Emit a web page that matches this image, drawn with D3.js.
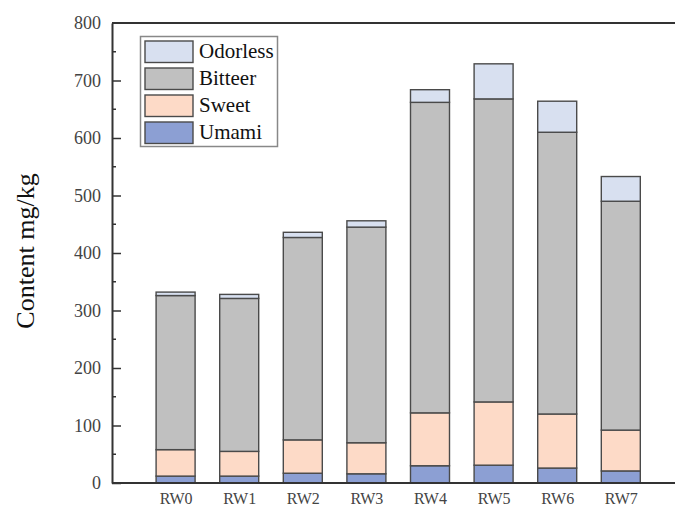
<!DOCTYPE html>
<html>
<head>
<meta charset="utf-8">
<script src="https://cdn.jsdelivr.net/npm/d3@7"></script>
<style>
  html, body { margin: 0; padding: 0; background: #fff; overflow: hidden; }
  svg { display: block; }
</style>
</head>
<body>
<svg id="chart" width="675" height="508"></svg>
<script>
// Taste-compound content per sample (mg/kg), stacked bottom to top
const samples  = ["RW0", "RW1", "RW2", "RW3", "RW4", "RW5", "RW6", "RW7"];
const umami    = [12, 12, 17, 16, 30, 31, 26, 21];
const sweet    = [46, 43, 58, 54, 92, 110, 94, 71];
const bitter   = [268, 266, 352, 375, 540, 527, 490, 398];
const odorless = [6, 7, 9, 11, 22, 61, 54, 43];
const seriesNames = ["Umami", "Sweet", "Bitteer", "Odorless"];
const yTicks = [0, 100, 200, 300, 400, 500, 600, 700, 800];

const colors = {
  Umami: "#8c9fd3",
  Sweet: "#fddac7",
  Bitteer: "#c0c0c0",
  Odorless: "#d8e0f0"
};

const rows = samples.map((s, i) => ({
  sample: s,
  Umami: umami[i],
  Sweet: sweet[i],
  Bitteer: bitter[i],
  Odorless: odorless[i]
}));
const stacked = d3.stack().keys(seriesNames)(rows);

const svg = d3.select("#chart");
const plot = { left: 112, top: 23, bottom: 483, right: 684.4 };

const x = d3.scalePoint().domain(samples).range([plot.left, plot.right]).padding(1);
const barW = 39;
const y = d3.scaleLinear().domain([0, 800]).range([plot.bottom, plot.top]);

// bars
const g = svg.append("g");
stacked.forEach(layer => {
  g.selectAll(null)
    .data(layer)
    .join("rect")
    .attr("x", d => x(d.data.sample) - barW / 2)
    .attr("y", d => y(d[1]))
    .attr("width", barW)
    .attr("height", d => y(d[0]) - y(d[1]))
    .attr("fill", colors[layer.key])
    .attr("stroke", "#4a4a4a")
    .attr("stroke-width", 1.4);
});

// frame (top and right edges of the plot box)
svg.append("path")
  .attr("d", `M${plot.left},${plot.top}H${plot.right}V${plot.bottom}`)
  .attr("fill", "none")
  .attr("stroke", "#333")
  .attr("stroke-width", 2);

// y axis with inward ticks and minor ticks
const yAxis = d3.axisLeft(y).tickValues(yTicks).tickSize(-9).tickPadding(11).tickSizeOuter(0);
const ya = svg.append("g").attr("transform", `translate(${plot.left},0)`).call(yAxis);
ya.select(".domain").attr("stroke", "#333").attr("stroke-width", 2);
ya.selectAll(".tick line").attr("stroke", "#333").attr("stroke-width", 1.5);
ya.selectAll(".tick text")
  .attr("font-family", "'Liberation Serif', serif")
  .attr("font-size", 18)
  .attr("fill", "#444");
ya.selectAll(".tick").filter(d => d === 800).select("line").remove();

const minor = d3.range(50, 800, 100);
svg.append("g").selectAll("line").data(minor).join("line")
  .attr("x1", plot.left).attr("x2", plot.left + 4)
  .attr("y1", d => y(d)).attr("y2", d => y(d))
  .attr("stroke", "#333").attr("stroke-width", 1.5);

// x axis
const xAxis = d3.axisBottom(x).tickSize(0).tickPadding(10);
const xa = svg.append("g").attr("transform", `translate(0,${plot.bottom})`).call(xAxis);
xa.select(".domain").attr("d", `M${plot.left},0H${plot.right}`).attr("stroke", "#333").attr("stroke-width", 2);
xa.selectAll(".tick text")
  .attr("font-family", "'Liberation Serif', serif")
  .attr("font-size", 16)
  .attr("fill", "#444");

// y axis title
svg.append("text")
  .attr("transform", `translate(34,${(170 + 332) / 2}) rotate(-90)`)
  .attr("text-anchor", "middle")
  .attr("font-family", "'Liberation Serif', 'Times New Roman', serif")
  .attr("font-size", 26)
  .attr("fill", "#111")
  .text("Content mg/kg");

// legend
const legend = svg.append("g");
legend.append("rect")
  .attr("x", 140.5).attr("y", 36.5).attr("width", 137).attr("height", 110)
  .attr("fill", "#fff").attr("stroke", "#888").attr("stroke-width", 1.5);
const legendOrder = seriesNames.slice().reverse();
legendOrder.forEach((name, i) => {
  const ry = 41 + i * 27;
  legend.append("rect")
    .attr("x", 145).attr("y", ry).attr("width", 48).attr("height", 21.5)
    .attr("fill", colors[name]).attr("stroke", "#4a4a4a").attr("stroke-width", 1.4);
  legend.append("text")
    .attr("x", 199).attr("y", ry + 17)
    .attr("font-family", "'Liberation Serif', 'Times New Roman', serif")
    .attr("font-size", 21)
    .attr("fill", "#111")
    .text(name);
});
</script>
</body>
</html>
